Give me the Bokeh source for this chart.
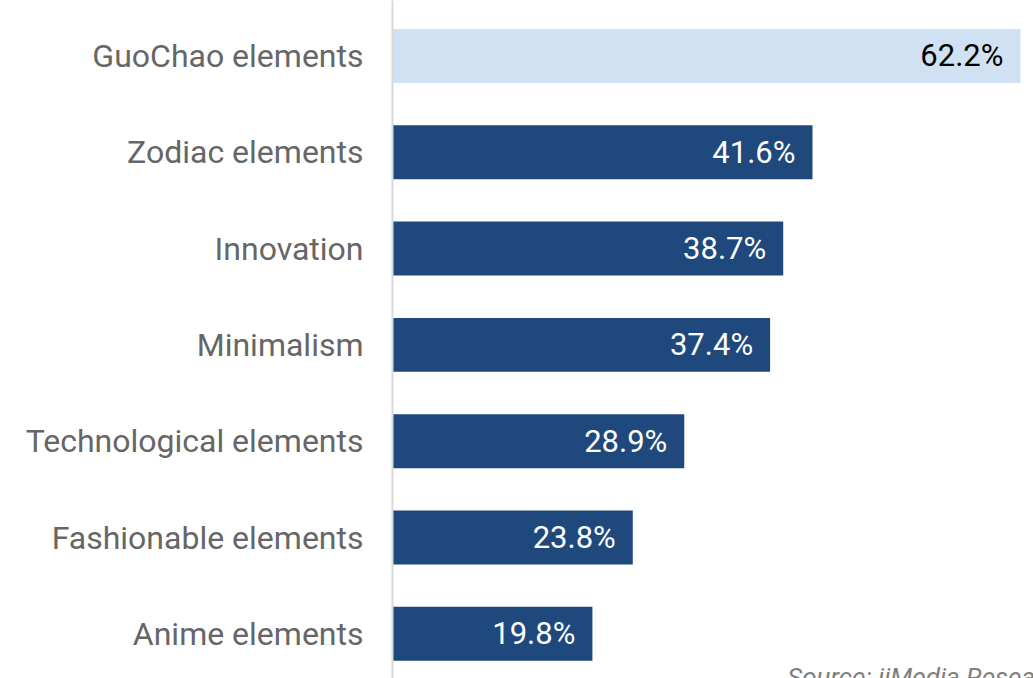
from bokeh.plotting import figure
from bokeh.models import Range1d, FixedTicker, ColumnDataSource
from bokeh.core.properties import value
from bokeh.embed import file_html
from bokeh.resources import INLINE

categories = ["GuoChao elements", "Zodiac elements", "Innovation", "Minimalism",
              "Technological elements", "Fashionable elements", "Anime elements"]
values = [62.2, 41.6, 38.7, 37.4, 28.9, 23.8, 19.8]
value_labels = ["62.2%", "41.6%", "38.7%", "37.4%", "28.9%", "23.8%", "19.8%"]
source_note = "Source: iiMedia Research"

n = len(categories)
ypos = [n - 1 - i for i in range(n)]
bar_colors = ["#cfe1f2"] + ["#1f497d"] * (n - 1)
text_colors = ["#000000"] + ["#ffffff"] * (n - 1)

src = ColumnDataSource(dict(y=ypos, v=values, lab=value_labels,
                            fc=bar_colors, tc=text_colors))

p = figure(width=1033, height=678, output_backend="svg", toolbar_location=None,
           x_range=Range1d(0, 63.49), y_range=Range1d(-0.464, 6.576),
           min_border_left=392, min_border_right=0, min_border_top=0, min_border_bottom=0)

p.hbar(y="y", right="v", left=0, height=0.56, fill_color="fc", line_color=None, source=src)
p.text(x="v", y="y", text="lab", text_color="tc", text_align="right", text_baseline="middle",
       x_offset=-17, y_offset=0, text_font=value("Roboto"), text_font_size="31px", source=src)

p.text(x=[39.1], y=[-0.29], text=[source_note], text_align="left", text_baseline="top",
       text_color="#7f7f7f", text_font=value("Roboto"), text_font_size="26px",
       text_font_style="italic")

p.xaxis.visible = False
p.xgrid.visible = False
p.ygrid.visible = False
p.outline_line_color = None

ya = p.yaxis[0]
ya.ticker = FixedTicker(ticks=ypos)
ya.major_label_overrides = {ypos[i]: categories[i] for i in range(n)}
ya.major_tick_line_color = None
ya.minor_tick_line_color = None
ya.major_tick_out = 0
ya.major_tick_in = 0
ya.axis_line_color = "#d9d9d9"
ya.axis_line_width = 2
ya.major_label_standoff = 29
ya.major_label_text_font = "Roboto"
ya.major_label_text_font_size = "32px"
ya.major_label_text_color = "#666666"

open("out.html", "w").write(file_html(p, INLINE))
